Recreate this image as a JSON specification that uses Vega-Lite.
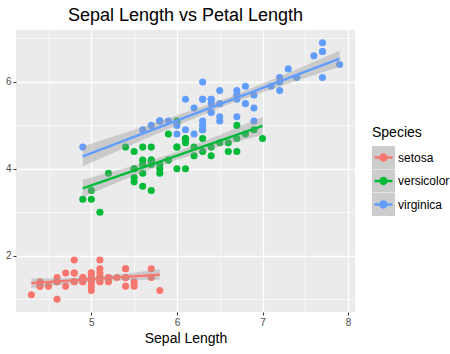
{
"$schema": "https://vega.github.io/schema/vega-lite/v6.json",
"width": 339, "height": 282,
"autosize": {"type": "none"},
"padding": {"left": 16, "top": 30, "right": 95, "bottom": 42},
"background": "white",
"config": {
  "font": "Liberation Sans",
  "view": {"fill": "#EBEBEB", "stroke": null},
  "axis": {"domain": false, "gridColor": "white", "tickColor": "#333333", "tickSize": 3, "labelColor": "#4D4D4D", "labelFontSize": 10, "labelPadding": 2, "titleColor": "black", "titleFontWeight": "normal", "titleFontSize": 14}
},
"title": {"text": "Sepal Length vs Petal Length", "fontSize": 18, "fontWeight": "normal", "color": "black", "anchor": "middle", "frame": "group", "dy": -1},
"datasets": {
"iris": [
{"Species":"setosa","sl":5.1,"pl":1.4},{"Species":"setosa","sl":4.9,"pl":1.4},{"Species":"setosa","sl":4.7,"pl":1.3},{"Species":"setosa","sl":4.6,"pl":1.5},{"Species":"setosa","sl":5.0,"pl":1.4},
{"Species":"setosa","sl":5.4,"pl":1.7},{"Species":"setosa","sl":4.6,"pl":1.4},{"Species":"setosa","sl":5.0,"pl":1.5},{"Species":"setosa","sl":4.4,"pl":1.4},{"Species":"setosa","sl":4.9,"pl":1.5},
{"Species":"setosa","sl":5.4,"pl":1.5},{"Species":"setosa","sl":4.8,"pl":1.6},{"Species":"setosa","sl":4.8,"pl":1.4},{"Species":"setosa","sl":4.3,"pl":1.1},{"Species":"setosa","sl":5.8,"pl":1.2},
{"Species":"setosa","sl":5.7,"pl":1.5},{"Species":"setosa","sl":5.4,"pl":1.3},{"Species":"setosa","sl":5.1,"pl":1.4},{"Species":"setosa","sl":5.7,"pl":1.7},{"Species":"setosa","sl":5.1,"pl":1.5},
{"Species":"setosa","sl":5.4,"pl":1.7},{"Species":"setosa","sl":5.1,"pl":1.5},{"Species":"setosa","sl":4.6,"pl":1.0},{"Species":"setosa","sl":5.1,"pl":1.7},{"Species":"setosa","sl":4.8,"pl":1.9},
{"Species":"setosa","sl":5.0,"pl":1.6},{"Species":"setosa","sl":5.0,"pl":1.6},{"Species":"setosa","sl":5.2,"pl":1.5},{"Species":"setosa","sl":5.2,"pl":1.4},{"Species":"setosa","sl":4.7,"pl":1.6},
{"Species":"setosa","sl":4.8,"pl":1.6},{"Species":"setosa","sl":5.4,"pl":1.5},{"Species":"setosa","sl":5.2,"pl":1.5},{"Species":"setosa","sl":5.5,"pl":1.4},{"Species":"setosa","sl":4.9,"pl":1.5},
{"Species":"setosa","sl":5.0,"pl":1.2},{"Species":"setosa","sl":5.5,"pl":1.3},{"Species":"setosa","sl":4.9,"pl":1.4},{"Species":"setosa","sl":4.4,"pl":1.3},{"Species":"setosa","sl":5.1,"pl":1.5},
{"Species":"setosa","sl":5.0,"pl":1.3},{"Species":"setosa","sl":4.5,"pl":1.3},{"Species":"setosa","sl":4.4,"pl":1.3},{"Species":"setosa","sl":5.0,"pl":1.6},{"Species":"setosa","sl":5.1,"pl":1.9},
{"Species":"setosa","sl":4.8,"pl":1.4},{"Species":"setosa","sl":5.1,"pl":1.6},{"Species":"setosa","sl":4.6,"pl":1.4},{"Species":"setosa","sl":5.3,"pl":1.5},{"Species":"setosa","sl":5.0,"pl":1.4},
{"Species":"versicolor","sl":7.0,"pl":4.7},{"Species":"versicolor","sl":6.4,"pl":4.5},{"Species":"versicolor","sl":6.9,"pl":4.9},{"Species":"versicolor","sl":5.5,"pl":4.0},{"Species":"versicolor","sl":6.5,"pl":4.6},
{"Species":"versicolor","sl":5.7,"pl":4.5},{"Species":"versicolor","sl":6.3,"pl":4.7},{"Species":"versicolor","sl":4.9,"pl":3.3},{"Species":"versicolor","sl":6.6,"pl":4.6},{"Species":"versicolor","sl":5.2,"pl":3.9},
{"Species":"versicolor","sl":5.0,"pl":3.5},{"Species":"versicolor","sl":5.9,"pl":4.2},{"Species":"versicolor","sl":6.0,"pl":4.0},{"Species":"versicolor","sl":6.1,"pl":4.7},{"Species":"versicolor","sl":5.6,"pl":3.6},
{"Species":"versicolor","sl":6.7,"pl":4.4},{"Species":"versicolor","sl":5.6,"pl":4.5},{"Species":"versicolor","sl":5.8,"pl":4.1},{"Species":"versicolor","sl":6.2,"pl":4.5},{"Species":"versicolor","sl":5.6,"pl":3.9},
{"Species":"versicolor","sl":5.9,"pl":4.8},{"Species":"versicolor","sl":6.1,"pl":4.0},{"Species":"versicolor","sl":6.3,"pl":4.9},{"Species":"versicolor","sl":6.1,"pl":4.7},{"Species":"versicolor","sl":6.4,"pl":4.3},
{"Species":"versicolor","sl":6.6,"pl":4.4},{"Species":"versicolor","sl":6.8,"pl":4.8},{"Species":"versicolor","sl":6.7,"pl":5.0},{"Species":"versicolor","sl":6.0,"pl":4.5},{"Species":"versicolor","sl":5.7,"pl":3.5},
{"Species":"versicolor","sl":5.5,"pl":3.8},{"Species":"versicolor","sl":5.5,"pl":3.7},{"Species":"versicolor","sl":5.8,"pl":3.9},{"Species":"versicolor","sl":6.0,"pl":5.1},{"Species":"versicolor","sl":5.4,"pl":4.5},
{"Species":"versicolor","sl":6.0,"pl":4.5},{"Species":"versicolor","sl":6.7,"pl":4.7},{"Species":"versicolor","sl":6.3,"pl":4.4},{"Species":"versicolor","sl":5.6,"pl":4.1},{"Species":"versicolor","sl":5.5,"pl":4.0},
{"Species":"versicolor","sl":5.5,"pl":4.4},{"Species":"versicolor","sl":6.1,"pl":4.6},{"Species":"versicolor","sl":5.8,"pl":4.0},{"Species":"versicolor","sl":5.0,"pl":3.3},{"Species":"versicolor","sl":5.6,"pl":4.2},
{"Species":"versicolor","sl":5.7,"pl":4.2},{"Species":"versicolor","sl":5.7,"pl":4.2},{"Species":"versicolor","sl":6.2,"pl":4.3},{"Species":"versicolor","sl":5.1,"pl":3.0},{"Species":"versicolor","sl":5.7,"pl":4.1},
{"Species":"virginica","sl":6.3,"pl":6.0},{"Species":"virginica","sl":5.8,"pl":5.1},{"Species":"virginica","sl":7.1,"pl":5.9},{"Species":"virginica","sl":6.3,"pl":5.6},{"Species":"virginica","sl":6.5,"pl":5.8},
{"Species":"virginica","sl":7.6,"pl":6.6},{"Species":"virginica","sl":4.9,"pl":4.5},{"Species":"virginica","sl":7.3,"pl":6.3},{"Species":"virginica","sl":6.7,"pl":5.8},{"Species":"virginica","sl":7.2,"pl":6.1},
{"Species":"virginica","sl":6.5,"pl":5.1},{"Species":"virginica","sl":6.4,"pl":5.3},{"Species":"virginica","sl":6.8,"pl":5.5},{"Species":"virginica","sl":5.7,"pl":5.0},{"Species":"virginica","sl":5.8,"pl":5.1},
{"Species":"virginica","sl":6.4,"pl":5.3},{"Species":"virginica","sl":6.5,"pl":5.5},{"Species":"virginica","sl":7.7,"pl":6.7},{"Species":"virginica","sl":7.7,"pl":6.9},{"Species":"virginica","sl":6.0,"pl":5.0},
{"Species":"virginica","sl":6.9,"pl":5.7},{"Species":"virginica","sl":5.6,"pl":4.9},{"Species":"virginica","sl":7.7,"pl":6.7},{"Species":"virginica","sl":6.3,"pl":4.9},{"Species":"virginica","sl":6.7,"pl":5.7},
{"Species":"virginica","sl":7.2,"pl":6.0},{"Species":"virginica","sl":6.2,"pl":4.8},{"Species":"virginica","sl":6.1,"pl":4.9},{"Species":"virginica","sl":6.4,"pl":5.6},{"Species":"virginica","sl":7.2,"pl":5.8},
{"Species":"virginica","sl":7.4,"pl":6.1},{"Species":"virginica","sl":7.9,"pl":6.4},{"Species":"virginica","sl":6.4,"pl":5.6},{"Species":"virginica","sl":6.3,"pl":5.1},{"Species":"virginica","sl":6.1,"pl":5.6},
{"Species":"virginica","sl":7.7,"pl":6.1},{"Species":"virginica","sl":6.3,"pl":5.6},{"Species":"virginica","sl":6.4,"pl":5.5},{"Species":"virginica","sl":6.0,"pl":4.8},{"Species":"virginica","sl":6.9,"pl":5.4},
{"Species":"virginica","sl":6.7,"pl":5.6},{"Species":"virginica","sl":6.9,"pl":5.1},{"Species":"virginica","sl":5.8,"pl":5.1},{"Species":"virginica","sl":6.8,"pl":5.9},{"Species":"virginica","sl":6.7,"pl":5.7},
{"Species":"virginica","sl":6.7,"pl":5.2},{"Species":"virginica","sl":6.3,"pl":5.0},{"Species":"virginica","sl":6.5,"pl":5.2},{"Species":"virginica","sl":6.2,"pl":5.4},{"Species":"virginica","sl":5.9,"pl":5.1}
],
"band": [
{"sp":"setosa","x":4.3,"lo":1.260,"hi":1.478},{"sp":"setosa","x":4.65,"lo":1.346,"hi":1.484},{"sp":"setosa","x":5.0,"lo":1.413,"hi":1.509},{"sp":"setosa","x":5.4,"lo":1.441,"hi":1.586},{"sp":"setosa","x":5.8,"lo":1.446,"hi":1.686},
{"sp":"versicolor","x":4.9,"lo":3.349,"hi":3.750},{"sp":"versicolor","x":5.4,"lo":3.764,"hi":4.020},{"sp":"versicolor","x":5.936,"lo":4.171,"hi":4.349},{"sp":"versicolor","x":6.5,"lo":4.515,"hi":4.779},{"sp":"versicolor","x":7.0,"lo":4.786,"hi":5.196},
{"sp":"virginica","x":4.9,"lo":4.058,"hi":4.514},{"sp":"virginica","x":5.7,"lo":4.748,"hi":5.024},{"sp":"virginica","x":6.588,"lo":5.472,"hi":5.632},{"sp":"virginica","x":7.3,"lo":5.966,"hi":6.206},{"sp":"virginica","x":7.9,"lo":6.352,"hi":6.721}
]
},
"layer": [
  {
    "data": {"name": "iris"},
    "mark": {"type": "circle", "size": 50, "opacity": 1},
    "encoding": {
      "x": {"field": "sl", "type": "quantitative", "title": "Sepal Length",
        "scale": {"domain": [4.12, 8.08], "nice": false, "zero": false},
        "axis": {"values": [4.5, 5, 5.5, 6, 6.5, 7, 7.5, 8], "labelExpr": "datum.value % 1 === 0 ? format(datum.value, 'd') : ''",
          "tickOpacity": {"condition": {"test": "datum.value % 1 !== 0", "value": 0}, "value": 1},
          "gridWidth": {"condition": {"test": "datum.value % 1 !== 0", "value": 0.6}, "value": 1.3},
          "titlePadding": 4}},
      "y": {"field": "pl", "type": "quantitative", "title": null,
        "scale": {"domain": [0.705, 7.195], "nice": false, "zero": false},
        "axis": {"values": [1, 2, 3, 4, 5, 6, 7], "labelExpr": "datum.value % 2 === 0 ? format(datum.value, 'd') : ''",
          "tickOpacity": {"condition": {"test": "datum.value % 2 !== 0", "value": 0}, "value": 1},
          "gridWidth": {"condition": {"test": "datum.value % 2 !== 0", "value": 0.6}, "value": 1.3}}},
      "color": {"field": "Species", "type": "nominal",
        "scale": {"domain": ["setosa", "versicolor", "virginica"], "range": ["#F8766D", "#00BA38", "#619CFF"]},
        "legend": {"orient": "none", "legendX": 356, "legendY": 96, "title": "Species", "titleFontSize": 14, "titleFontWeight": "normal", "titleColor": "black", "titlePadding": 6,
          "labelFontSize": 12, "labelColor": "black", "labelOffset": 3, "rowPadding": 0.5,
          "symbolType": "M-1,-1 L-0.999,-1 Z M1,1 L0.999,1 Z M-0.78,-0.1 L0.78,-0.1 L0.78,0.1 L-0.78,0.1 Z M-0.36,0 A0.36,0.36 0 1,1 0.36,0 A0.36,0.36 0 1,1 -0.36,0 Z",
          "symbolSize": 529, "symbolStrokeWidth": 0, "symbolOpacity": 1, "zindex": 2}}
    }
  },
  {
    "data": {"name": "band"},
    "mark": {"type": "area", "fillOpacity": 0.4},
    "encoding": {
      "x": {"field": "x", "type": "quantitative"},
      "y": {"field": "lo", "type": "quantitative"},
      "y2": {"field": "hi"},
      "detail": {"field": "sp"},
      "fill": {"field": "sp", "type": "nominal",
        "scale": {"domain": ["virginica", "versicolor", "setosa"], "range": ["#999999", "#999999", "#999999"]},
        "legend": {"orient": "none", "legendX": 356, "legendY": 96, "title": " ", "titleFontSize": 14, "titleFontWeight": "normal", "titleColor": "rgba(0,0,0,0)", "titlePadding": 6,
          "labelFontSize": 12, "labelExpr": "''", "labelOffset": 3, "rowPadding": 0.5,
          "symbolType": "square", "symbolSize": 529, "symbolStrokeWidth": 0, "symbolOpacity": 0.5, "zindex": 1}}
    }
  },
  {
    "data": {"name": "iris"},
    "transform": [{"regression": "pl", "on": "sl", "groupby": ["Species"]}],
    "mark": {"type": "line", "strokeWidth": 2.3},
    "encoding": {
      "x": {"field": "sl", "type": "quantitative"},
      "y": {"field": "pl", "type": "quantitative"},
      "color": {"field": "Species", "type": "nominal"}
    }
  }
]
}
